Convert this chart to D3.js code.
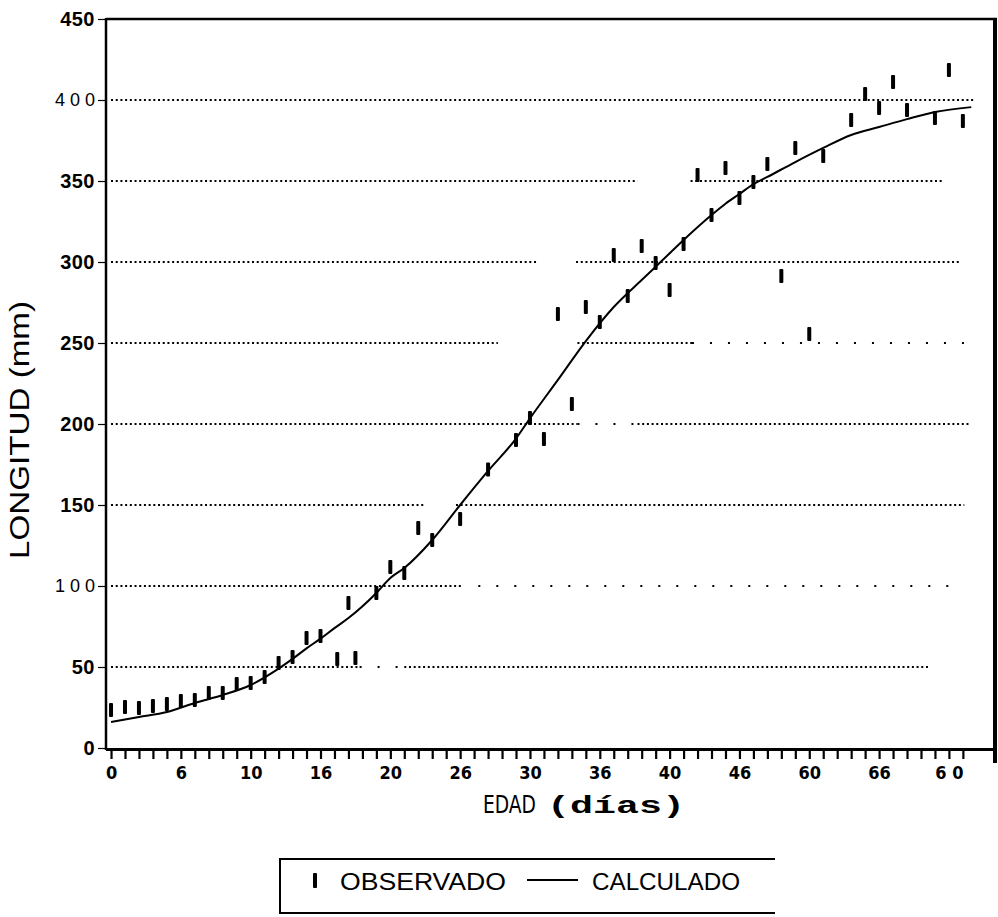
<!DOCTYPE html>
<html>
<head>
<meta charset="utf-8">
<script src="https://cdnjs.cloudflare.com/ajax/libs/d3/7.8.5/d3.min.js"></script>
<style>
  body { margin: 0; background: #fff; }
  svg { display: block; }
</style>
</head>
<body>
<div id="container"></div>
<script>
/* DATA */
// observed length (mm) by age (days)
const obsDays = [0, 1, 2, 3, 4, 5, 6, 7, 8, 9, 10, 11, 12, 13, 14, 15, 16.2, 17, 17.5, 19,
  20, 21, 22, 23, 25, 27, 29, 30, 31, 32, 33, 34, 35, 36, 37, 38, 39, 40, 41, 42,
  43, 44, 45, 46, 47, 48, 49, 50, 51, 53, 54, 55, 56, 57, 59, 60, 61];
const obsLength = [23.5, 25.3, 24.7, 25.9, 27.2, 29, 29.6, 34, 34, 39.5, 40.1, 43.8, 52.5, 56.2, 67.9, 69.1, 54.9, 89.5, 55.6, 95.7,
  111.7, 108, 135.8, 128.4, 141.4, 171.9, 190.1, 203.7, 190.7, 267.9, 212.3, 272.2, 263, 304.3, 279, 309.9, 299.4, 282.7, 311.1, 353.7,
  329, 358, 339.5, 349.4, 360.5, 291.4, 370.4, 255.6, 365.4, 387.7, 403.7, 395.1, 411.1, 393.8, 388.9, 418.5, 387.1];

// calculated (fitted) curve
const calcDays = [0, 2, 4, 6, 8, 10, 12, 13, 14, 15, 16, 17, 19, 20, 21, 23, 25, 27, 29, 30,
  32, 34, 36, 38, 39.5, 41, 43, 44, 45, 46, 47, 49, 51, 53, 55, 57, 59, 61.6];
const calcLength = [16, 19.1, 22.2, 27.8, 32.7, 38.9, 49, 55, 61.5, 67.5, 74, 80.2, 95.7, 104.9, 111.1, 128.4, 150, 171, 191, 203.5,
  227.2, 251.2, 272.2, 288.9, 301.2, 313.6, 329, 336, 342, 348, 352.5, 361.7, 370.4, 378.4, 383.3, 388.2, 392.6, 395.6];

// axis ticks
const xTickDays = d3.range(0, 62);
const xLabelDays = [0, 5, 10, 15, 20, 25, 30, 35, 40, 45, 50, 55, 60];
const xTickLabels = ["0", "6", "10", "16", "20", "26", "30", "36", "40", "46", "60", "66", "6 0"];
const yTickValues = [0, 50, 100, 150, 200, 250, 300, 350, 400, 450];
const yTickLabels = ["0", "50", "1 0 0", "150", "200", "250", "300", "350", "4 0 0", "450"];

// dotted reference lines: [value, from day, to day]
const gridDense = [
  [400, 0, 61.9],
  [350, 0, 37.7], [350, 41.5, 59.6],
  [300, 0, 30.6], [300, 33.3, 60.9],
  [250, 0, 27.7], [250, 33.4, 41.6],
  [200, 0, 33.4], [200, 37.7, 61.4],
  [150, 0, 22.5], [150, 24.7, 61.1],
  [100, 0, 25.2],
  [50, 0, 17.8], [50, 21, 58.6]
];
const gridSparse = [
  [250, 41.6, 61.5],
  [200, 33.4, 37.7],
  [100, 26.3, 61.1],
  [50, 17.8, 21]
];

/* CONSTANTS */
const width = 998,
  height = 917;
const plot = { left: 106, right: 995, top: 19, bottom: 748 };

const xScale = d3.scaleLinear()
  .domain([-0.36, 63.3])
  .range([plot.left, plot.right]);

const yScale = d3.scaleLinear()
  .domain([0, 450])
  .range([plot.bottom, plot.top]);

const svg = d3.select("#container")
  .append("svg")
  .attr("width", width)
  .attr("height", height)
  .attr("viewBox", [0, 0, width, height]);

const narrow = "'Liberation Sans Narrow', 'Arial Narrow', 'DejaVu Sans Condensed', sans-serif";
const sans = "'Liberation Sans', Arial, Helvetica, sans-serif";

/* GRID */
svg.append("g")
  .selectAll("line")
  .data(gridDense)
  .join("line")
  .attr("x1", d => xScale(d[1]))
  .attr("x2", d => xScale(d[2]))
  .attr("y1", d => yScale(d[0]))
  .attr("y2", d => yScale(d[0]))
  .attr("stroke", "#000")
  .attr("stroke-width", 2.2)
  .attr("stroke-dasharray", "2,2.7");

svg.append("g")
  .selectAll("line")
  .data(gridSparse)
  .join("line")
  .attr("x1", d => xScale(d[1]))
  .attr("x2", d => xScale(d[2]))
  .attr("y1", d => yScale(d[0]))
  .attr("y2", d => yScale(d[0]))
  .attr("stroke", "#000")
  .attr("stroke-width", 2.2)
  .attr("stroke-dasharray", "2,16");

/* FRAME */
const frame = svg.append("g").attr("fill", "none").attr("stroke", "#000");
frame.append("line") // top
  .attr("x1", plot.left).attr("x2", plot.right + 2)
  .attr("y1", yScale(450)).attr("y2", yScale(450))
  .attr("stroke-width", 2.5);
frame.append("line") // left
  .attr("x1", plot.left).attr("x2", plot.left)
  .attr("y1", yScale(450) - 1).attr("y2", yScale(0) + 2)
  .attr("stroke-width", 2.5);
frame.append("line") // bottom
  .attr("x1", plot.left).attr("x2", plot.right + 2)
  .attr("y1", yScale(0) + 1.5).attr("y2", yScale(0) + 1.5)
  .attr("stroke-width", 3);
frame.append("line") // right
  .attr("x1", plot.right).attr("x2", plot.right)
  .attr("y1", yScale(450) - 1).attr("y2", yScale(0) + 15)
  .attr("stroke-width", 4);

/* AXES */
const xAxis = d3.axisBottom(xScale)
  .tickValues(xTickDays)
  .tickSize(10)
  .tickPadding(7)
  .tickFormat(d => {
    const i = xLabelDays.indexOf(d);
    return i >= 0 ? xTickLabels[i] : "";
  });

const gx = svg.append("g")
  .attr("transform", `translate(0, ${yScale(0) + 1})`)
  .call(xAxis);
gx.select(".domain").remove();
gx.selectAll(".tick line").attr("stroke-width", 2.2);
gx.selectAll(".tick text")
  .attr("fill", "#000")
  .style("font-family", narrow)
  .style("font-weight", "bold")
  .style("font-size", "18px");

const yAxis = d3.axisLeft(yScale)
  .tickValues(yTickValues)
  .tickSize(7)
  .tickPadding(3)
  .tickFormat((d, i) => yTickLabels[i]);

const gy = svg.append("g")
  .attr("transform", `translate(${plot.left - 1}, 0)`)
  .call(yAxis);
gy.select(".domain").remove();
gy.selectAll(".tick line").attr("stroke-width", 1.2);
gy.selectAll(".tick text")
  .attr("fill", "#000")
  .style("font-family", sans)
  .style("font-weight", (d, i) => yTickLabels[i].includes(" ") ? "normal" : "bold")
  .style("font-size", (d, i) => yTickLabels[i].includes(" ") ? "18px" : "20px")
  .style("letter-spacing", (d, i) => yTickLabels[i].includes(" ") ? "0px" : "0.5px");

/* AXIS TITLES */
svg.append("text")
  .attr("transform", `translate(29, 430) rotate(-90)`)
  .attr("text-anchor", "middle")
  .attr("textLength", 258)
  .attr("lengthAdjust", "spacingAndGlyphs")
  .style("font-family", sans)
  .style("font-size", "27px")
  .text("LONGITUD (mm)");

svg.append("text")
  .attr("x", 483)
  .attr("y", 813)
  .attr("textLength", 53)
  .attr("lengthAdjust", "spacingAndGlyphs")
  .style("font-family", narrow)
  .style("font-size", "25px")
  .text("EDAD");

svg.append("text")
  .attr("x", 547)
  .attr("y", 813)
  .attr("textLength", 138)
  .attr("lengthAdjust", "spacingAndGlyphs")
  .style("font-family", "'Liberation Mono', 'DejaVu Sans Mono', monospace")
  .style("font-weight", "bold")
  .style("font-size", "24px")
  .text("(días)");

/* CALCULATED CURVE */
const line = d3.line()
  .x(d => xScale(d[0]))
  .y(d => yScale(d[1]))
  .curve(d3.curveMonotoneX);

svg.append("path")
  .datum(d3.zip(calcDays, calcLength))
  .attr("d", line)
  .attr("fill", "none")
  .attr("stroke", "#000")
  .attr("stroke-width", 2);

/* OBSERVED MARKS */
svg.append("g")
  .selectAll("rect")
  .data(d3.zip(obsDays, obsLength))
  .join("rect")
  .attr("x", d => xScale(d[0]) - 2)
  .attr("y", d => yScale(d[1]) - 7)
  .attr("width", 4)
  .attr("height", 14)
  .attr("rx", 1)
  .attr("fill", "#000");

/* LEGEND */
const legend = svg.append("g");
legend.append("path")
  .attr("d", "M775,859 H280 V913 H775")
  .attr("fill", "none")
  .attr("stroke", "#000")
  .attr("stroke-width", 2);
legend.append("rect")
  .attr("x", 313).attr("y", 873)
  .attr("width", 4).attr("height", 15)
  .attr("rx", 1)
  .attr("fill", "#000");
legend.append("text")
  .attr("x", 340).attr("y", 890)
  .attr("textLength", 166)
  .attr("lengthAdjust", "spacingAndGlyphs")
  .style("font-family", sans)
  .style("font-size", "24px")
  .text("OBSERVADO");
legend.append("line")
  .attr("x1", 527).attr("x2", 578)
  .attr("y1", 880).attr("y2", 880)
  .attr("stroke", "#000")
  .attr("stroke-width", 2);
legend.append("text")
  .attr("x", 592).attr("y", 890)
  .attr("textLength", 148)
  .attr("lengthAdjust", "spacingAndGlyphs")
  .style("font-family", sans)
  .style("font-size", "24px")
  .text("CALCULADO");
</script>
</body>
</html>
